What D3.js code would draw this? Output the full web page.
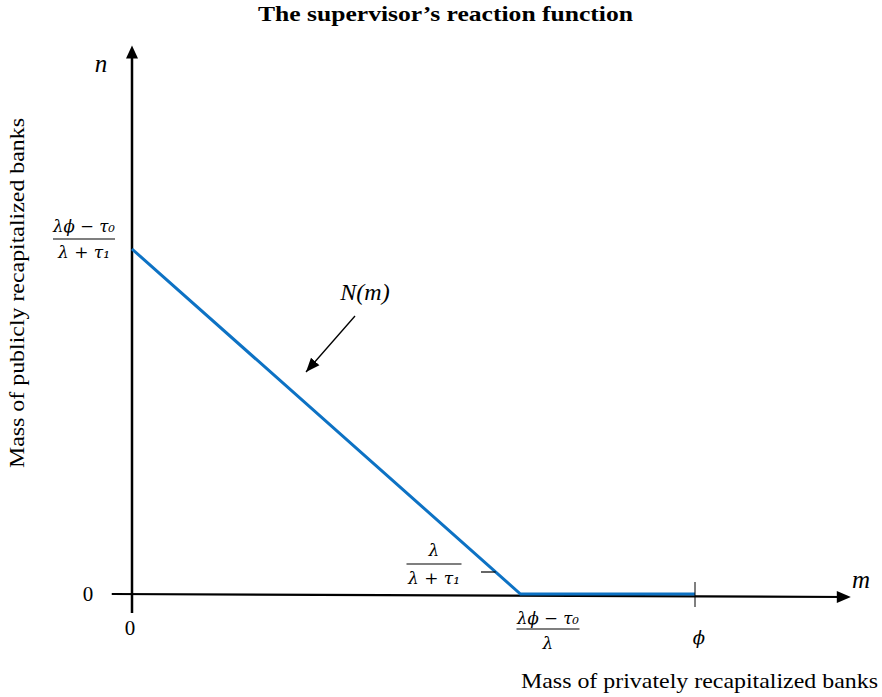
<!DOCTYPE html>
<html><head><meta charset="utf-8">
<script src="https://cdn.jsdelivr.net/npm/d3@7"></script>
<style>body{margin:0;background:#fff}svg{display:block}</style>
</head><body>
<script>
// data (normalized: phi = 1, intercept = 1)
const mValues = [0, 0.69, 1];
const nValues = [1, 0, 0];
const title = "The supervisor’s reaction function";
const xTitle = "Mass of privately recapitalized banks";
const yTitle = "Mass of publicly recapitalized banks";
const yIntercept = ["λϕ − τ₀", "λ + τ₁"];
const xIntercept = ["λϕ − τ₀", "λ"];
const slopeLabel = ["λ", "λ + τ₁"];

const W = 882, H = 697;
const svg = d3.select("body").append("svg").attr("width", W).attr("height", H);
const x = d3.scaleLinear().domain([0, 1]).range([132, 695]);
const y = d3.scaleLinear().domain([0, 1]).range([594, 249]);
const serif = "Liberation Serif, Times New Roman, serif";
const blue = "#0d72c4";

const defs = svg.append("defs");
defs.append("marker").attr("id","ah2").attr("viewBox","0 0 10 10").attr("refX",10).attr("refY",5)
  .attr("markerWidth",14).attr("markerHeight",14).attr("orient","auto").attr("markerUnits","userSpaceOnUse")
  .append("path").attr("d","M0,1 L10,5 L0,9 z").attr("fill","#000");

// title
svg.append("text").attr("x", 258).attr("y", 21)
  .attr("font-family", serif).attr("font-weight","bold").attr("font-size", 22)
  .attr("textLength", 375).attr("lengthAdjust","spacingAndGlyphs").text(title);

// axes
svg.append("line").attr("x1", x(-0.036)).attr("y1", y(0)).attr("x2", x(1.27)).attr("y2", y(0)+3)
  .attr("stroke","#000").attr("stroke-width",2.2);
svg.append("path").attr("d", `M${x(1.275)+1},${y(0)+3} l-14,-6 l0,12 z`).attr("fill","#000");
svg.append("line").attr("x1", x(0)).attr("y1", y(-0.055)).attr("x2", x(0)).attr("y2", y(1.56))
  .attr("stroke","#000").attr("stroke-width",2.5);
svg.append("path").attr("d", `M${x(0)},${y(1.59)} l-6,13 l12,0 z`).attr("fill","#000");

// line
const line = d3.line().x((d,i)=>x(mValues[i])).y((d,i)=>y(nValues[i]));
svg.append("path").datum(mValues).attr("d", line).attr("fill","none")
  .attr("stroke", blue).attr("stroke-width", 3);

// phi tick
svg.append("line").attr("x1", x(1)).attr("x2", x(1)).attr("y1", y(0)-12).attr("y2", y(0)+13)
  .attr("stroke","#000").attr("stroke-width",1);

// slope marker line
svg.append("line").attr("x1", 481).attr("x2", x(0.69) - (y(0)-572)/ (y(0)-y(1)) * (x(0.69)-x(0))).attr("y1", 572).attr("y2", 572)
  .attr("stroke","#000").attr("stroke-width",1.2);

// annotation arrow
svg.append("line").attr("x1", 355).attr("y1", 316).attr("x2", 306).attr("y2", 372)
  .attr("stroke","#000").attr("stroke-width",1.3).attr("marker-end","url(#ah2)");

const math = "DejaVu Serif, Liberation Serif, serif";
function frac(cx, barY, parts, barW, numY, denY, numW, denW) {
  const g = svg.append("g").attr("font-family", math).attr("font-size", 17).attr("font-style","italic");
  const t1 = g.append("text").attr("x", cx).attr("y", numY).attr("text-anchor","middle").text(parts[0]);
  if (numW) t1.attr("textLength", numW).attr("lengthAdjust","spacingAndGlyphs");
  g.append("line").attr("x1", cx - barW/2).attr("x2", cx + barW/2).attr("y1", barY).attr("y2", barY)
    .attr("stroke","#000").attr("stroke-width",1.2);
  const t2 = g.append("text").attr("x", cx).attr("y", denY).attr("text-anchor","middle").text(parts[1]);
  if (denW) t2.attr("textLength", denW).attr("lengthAdjust","spacingAndGlyphs");
}
frac(84, 239, yIntercept, 62, 232, 258, 62, 52);
frac(548, 629, xIntercept, 63, 624, 649, 62, null);
frac(434, 564, slopeLabel, 55, 556, 584, null, 52);

// labels
const lab = (tx, ty, t, opts={}) => svg.append("text").attr("x", tx).attr("y", ty)
  .attr("text-anchor", opts.anchor || "middle").attr("font-family", opts.font || serif)
  .attr("font-size", opts.size || 21).attr("font-style", opts.italic ? "italic" : "normal").text(t);
lab(101, 72, "n", {italic:true, size:25});
lab(861, 588, "m", {italic:true, size:25});
lab(88, 601, "0");
lab(130, 635, "0");
lab(699, 644, "ϕ", {italic:true, size:18, font: math});
lab(365, 300, "N(m)", {italic:true, size:24});
svg.append("text").attr("x", 521).attr("y", 688).attr("font-family", serif).attr("font-size", 22)
  .attr("textLength", 357).attr("lengthAdjust","spacingAndGlyphs").text(xTitle);
svg.append("text").attr("transform","translate(24,468) rotate(-90)")
  .attr("font-family", serif).attr("font-size",22)
  .attr("textLength", 350).attr("lengthAdjust","spacingAndGlyphs").text(yTitle);
</script>
</body></html>
